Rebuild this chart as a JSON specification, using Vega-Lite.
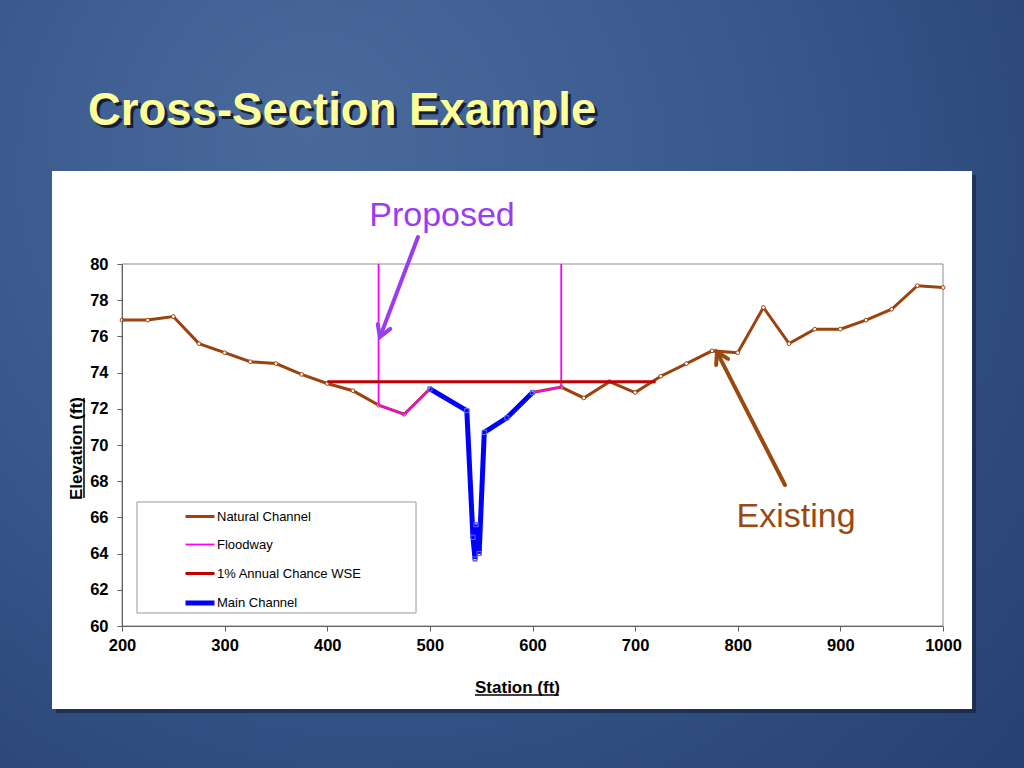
{
  "$schema": "https://vega.github.io/schema/vega-lite/v6.json",
  "autosize": "none",
  "width": 821,
  "height": 362,
  "padding": {"left": 122, "top": 264, "right": 81, "bottom": 142},
  "background": "#2f4c80",
  "config": {"font": "Liberation Sans", "view": {"stroke": null}, "axis": {"labelOverlap": false, "labelFlush": false, "labelSeparation": 0}},
  "data": {"values": [
    {"series": "Natural Channel", "i": 0, "station": 200, "elev": 76.9},
    {"series": "Natural Channel", "i": 1, "station": 225, "elev": 76.9},
    {"series": "Natural Channel", "i": 2, "station": 250, "elev": 77.1},
    {"series": "Natural Channel", "i": 3, "station": 275, "elev": 75.6},
    {"series": "Natural Channel", "i": 4, "station": 300, "elev": 75.1},
    {"series": "Natural Channel", "i": 5, "station": 325, "elev": 74.6},
    {"series": "Natural Channel", "i": 6, "station": 350, "elev": 74.5},
    {"series": "Natural Channel", "i": 7, "station": 375, "elev": 73.9},
    {"series": "Natural Channel", "i": 8, "station": 400, "elev": 73.4},
    {"series": "Natural Channel", "i": 9, "station": 425, "elev": 73.0},
    {"series": "Natural Channel", "i": 10, "station": 450, "elev": 72.2},
    {"series": "Natural Channel", "i": 11, "station": 475, "elev": 71.7},
    {"series": "Natural Channel", "i": 12, "station": 500, "elev": 73.1},
    {"series": "Natural Channel", "i": 13, "station": 536, "elev": 71.9},
    {"series": "Natural Channel", "i": 14, "station": 542, "elev": 64.9},
    {"series": "Natural Channel", "i": 15, "station": 544, "elev": 63.7},
    {"series": "Natural Channel", "i": 16, "station": 545, "elev": 65.6},
    {"series": "Natural Channel", "i": 17, "station": 548, "elev": 64.0},
    {"series": "Natural Channel", "i": 18, "station": 553, "elev": 70.7},
    {"series": "Natural Channel", "i": 19, "station": 575, "elev": 71.5},
    {"series": "Natural Channel", "i": 20, "station": 600, "elev": 72.9},
    {"series": "Natural Channel", "i": 21, "station": 628, "elev": 73.2},
    {"series": "Natural Channel", "i": 22, "station": 650, "elev": 72.6},
    {"series": "Natural Channel", "i": 23, "station": 675, "elev": 73.5},
    {"series": "Natural Channel", "i": 24, "station": 700, "elev": 72.9},
    {"series": "Natural Channel", "i": 25, "station": 725, "elev": 73.8},
    {"series": "Natural Channel", "i": 26, "station": 750, "elev": 74.5},
    {"series": "Natural Channel", "i": 27, "station": 775, "elev": 75.2},
    {"series": "Natural Channel", "i": 28, "station": 800, "elev": 75.1},
    {"series": "Natural Channel", "i": 29, "station": 825, "elev": 77.6},
    {"series": "Natural Channel", "i": 30, "station": 850, "elev": 75.6},
    {"series": "Natural Channel", "i": 31, "station": 875, "elev": 76.4},
    {"series": "Natural Channel", "i": 32, "station": 900, "elev": 76.4},
    {"series": "Natural Channel", "i": 33, "station": 925, "elev": 76.9},
    {"series": "Natural Channel", "i": 34, "station": 950, "elev": 77.5},
    {"series": "Natural Channel", "i": 35, "station": 975, "elev": 78.8},
    {"series": "Natural Channel", "i": 36, "station": 1000, "elev": 78.7},
    {"series": "Floodway", "i": 0, "station": 450, "elev": 80},
    {"series": "Floodway", "i": 1, "station": 450, "elev": 72.2},
    {"series": "Floodway", "i": 2, "station": 475, "elev": 71.7},
    {"series": "Floodway", "i": 3, "station": 500, "elev": 73.1},
    {"series": "Floodway", "i": 4, "station": 536, "elev": 71.9},
    {"series": "Floodway", "i": 5, "station": 542, "elev": 64.9},
    {"series": "Floodway", "i": 6, "station": 544, "elev": 63.7},
    {"series": "Floodway", "i": 7, "station": 545, "elev": 65.6},
    {"series": "Floodway", "i": 8, "station": 548, "elev": 64.0},
    {"series": "Floodway", "i": 9, "station": 553, "elev": 70.7},
    {"series": "Floodway", "i": 10, "station": 575, "elev": 71.5},
    {"series": "Floodway", "i": 11, "station": 600, "elev": 72.9},
    {"series": "Floodway", "i": 12, "station": 628, "elev": 73.2},
    {"series": "Floodway", "i": 13, "station": 628, "elev": 80},
    {"series": "1% Annual Chance WSE", "i": 0, "station": 400, "elev": 73.5},
    {"series": "1% Annual Chance WSE", "i": 1, "station": 720, "elev": 73.5},
    {"series": "Main Channel", "i": 0, "station": 500, "elev": 73.1},
    {"series": "Main Channel", "i": 1, "station": 536, "elev": 71.9},
    {"series": "Main Channel", "i": 2, "station": 542, "elev": 64.9},
    {"series": "Main Channel", "i": 3, "station": 544, "elev": 63.7},
    {"series": "Main Channel", "i": 4, "station": 545, "elev": 65.6},
    {"series": "Main Channel", "i": 5, "station": 548, "elev": 64.0},
    {"series": "Main Channel", "i": 6, "station": 553, "elev": 70.7},
    {"series": "Main Channel", "i": 7, "station": 575, "elev": 71.5},
    {"series": "Main Channel", "i": 8, "station": 600, "elev": 72.9}
  ]},
  "layer": [
    {
      "data": {"values": [{}]},
      "mark": {"type": "rect", "fill": {"gradient": "radial", "x1": 0.3, "y1": 0.25, "r1": 0, "x2": 0.4, "y2": 0.35, "r2": 0.85, "stops": [{"offset": 0, "color": "#4b6a9c"}, {"offset": 0.5, "color": "#37568a"}, {"offset": 1, "color": "#243d6e"}]}},
      "encoding": {
        "x": {"datum": 75, "scale": {"domain": [200, 1000], "nice": false, "zero": false},
          "axis": {"title": "Station (ft)", "values": [200, 300, 400, 500, 600, 700, 800, 900, 1000], "format": "d", "labelFlush": false, "labelOverlap": false, "grid": false, "tickSize": 5, "tickColor": "#606060", "domainColor": "#606060", "labelFontSize": 16.5, "labelFontWeight": "bold", "labelColor": "#000000", "labelPadding": 6, "titleFontSize": 17, "titleFontWeight": "bold", "titleColor": "#000000", "titleX": 395, "titleY": 66, "titleBaseline": "alphabetic", "zindex": 1}},
        "x2": {"datum": 1085},
        "y": {"datum": 96, "scale": {"domain": [60, 80], "nice": false, "zero": false},
          "axis": {"title": "Elevation (ft)", "values": [60, 62, 64, 66, 68, 70, 72, 74, 76, 78, 80], "tickCount": 11, "format": "d", "labelFlush": false, "labelOverlap": false, "grid": false, "tickSize": 5, "tickColor": "#606060", "domainColor": "#606060", "labelFontSize": 16.5, "labelFontWeight": "bold", "labelColor": "#000000", "labelPadding": 9, "titleFontSize": 17, "titleFontWeight": "bold", "titleColor": "#000000", "titleX": -41, "titleY": 184, "titleAngle": -90, "titleBaseline": "alphabetic", "zindex": 1}},
        "y2": {"datum": 51}
      }
    },
    {
      "data": {"values": [{}]},
      "mark": {"type": "rect", "fill": "#101c33", "opacity": 0.55},
      "encoding": {"x": {"datum": 135.7}, "x2": {"datum": 1032.2}, "y": {"datum": 84.92}, "y2": {"datum": 55.19}}
    },
    {
      "data": {"values": [{}]},
      "mark": {"type": "rect", "fill": "#ffffff"},
      "encoding": {"x": {"datum": 131.8}, "x2": {"datum": 1028.3}, "y": {"datum": 85.14}, "y2": {"datum": 55.41}}
    },
    {
      "data": {"values": [{}]},
      "mark": {"type": "rect", "fill": "#ffffff", "stroke": "#9a9a9a", "strokeWidth": 1},
      "encoding": {"x": {"datum": 214.6}, "x2": {"datum": 486.5}, "y": {"datum": 66.85}, "y2": {"datum": 60.72}}
    },
    {
      "data": {"values": [{}]},
      "mark": {"type": "rect", "fill": null, "stroke": "#8c8c8c", "strokeWidth": 1},
      "encoding": {"x": {"datum": 200}, "x2": {"datum": 1000}, "y": {"datum": 60}, "y2": {"datum": 80}}
    },
    {
      "transform": [{"filter": "datum.series === 'Natural Channel'"}],
      "mark": {"type": "line"},
      "encoding": {
        "x": {"field": "station", "type": "quantitative"},
        "y": {"field": "elev", "type": "quantitative"},
        "order": {"field": "i", "type": "quantitative"},
        "color": {"field": "series", "type": "nominal",
          "scale": {"domain": ["Natural Channel", "Floodway", "1% Annual Chance WSE", "Main Channel"], "range": ["#9c420e", "#ff00ff", "#c00000", "#0000ff"]},
          "legend": {"orient": "none", "legendX": 61, "legendY": 236.5, "title": null, "symbolType": "stroke", "symbolSize": 841, "labelFontSize": 13, "labelColor": "#000000", "labelOffset": 0, "rowPadding": 5.5, "padding": 0, "zindex": 1}},
        "strokeWidth": {"field": "series", "type": "nominal",
          "scale": {"type": "ordinal", "domain": ["Natural Channel", "Floodway", "1% Annual Chance WSE", "Main Channel"], "range": [3, 1.8, 3, 5]},
          "legend": {"orient": "none", "legendX": 61, "legendY": 236.5, "title": null, "symbolType": "stroke", "symbolSize": 841, "labelFontSize": 13, "labelColor": "#000000", "labelOffset": 0, "rowPadding": 5.5, "padding": 0, "zindex": 1}}
      }
    },
    {
      "transform": [{"filter": "datum.series === 'Natural Channel'"}],
      "mark": {"type": "point", "filled": true, "fill": "#ffffff", "stroke": "#9c420e", "strokeWidth": 1, "size": 14, "opacity": 1},
      "encoding": {"x": {"field": "station", "type": "quantitative"}, "y": {"field": "elev", "type": "quantitative"}}
    },
    {
      "transform": [{"filter": "datum.series === 'Floodway'"}],
      "mark": {"type": "line"},
      "encoding": {
        "x": {"field": "station", "type": "quantitative"},
        "y": {"field": "elev", "type": "quantitative"},
        "order": {"field": "i", "type": "quantitative"},
        "color": {"field": "series", "type": "nominal", "scale": {"domain": ["Natural Channel", "Floodway", "1% Annual Chance WSE", "Main Channel"], "range": ["#9c420e", "#ff00ff", "#c00000", "#0000ff"]}},
        "strokeWidth": {"field": "series", "type": "nominal", "scale": {"type": "ordinal", "domain": ["Natural Channel", "Floodway", "1% Annual Chance WSE", "Main Channel"], "range": [3, 1.8, 3, 5]}}
      }
    },
    {
      "transform": [{"filter": "datum.series === '1% Annual Chance WSE'"}],
      "mark": {"type": "line"},
      "encoding": {
        "x": {"field": "station", "type": "quantitative"},
        "y": {"field": "elev", "type": "quantitative"},
        "order": {"field": "i", "type": "quantitative"},
        "color": {"field": "series", "type": "nominal", "scale": {"domain": ["Natural Channel", "Floodway", "1% Annual Chance WSE", "Main Channel"], "range": ["#9c420e", "#ff00ff", "#c00000", "#0000ff"]}},
        "strokeWidth": {"field": "series", "type": "nominal", "scale": {"type": "ordinal", "domain": ["Natural Channel", "Floodway", "1% Annual Chance WSE", "Main Channel"], "range": [3, 1.8, 3, 5]}}
      }
    },
    {
      "transform": [{"filter": "datum.series === 'Main Channel'"}],
      "mark": {"type": "line"},
      "encoding": {
        "x": {"field": "station", "type": "quantitative"},
        "y": {"field": "elev", "type": "quantitative"},
        "order": {"field": "i", "type": "quantitative"},
        "color": {"field": "series", "type": "nominal", "scale": {"domain": ["Natural Channel", "Floodway", "1% Annual Chance WSE", "Main Channel"], "range": ["#9c420e", "#ff00ff", "#c00000", "#0000ff"]}},
        "strokeWidth": {"field": "series", "type": "nominal", "scale": {"type": "ordinal", "domain": ["Natural Channel", "Floodway", "1% Annual Chance WSE", "Main Channel"], "range": [3, 1.8, 3, 5]}}
      }
    },
    {
      "transform": [{"filter": "datum.series === 'Main Channel'"}],
      "mark": {"type": "point", "shape": "square", "filled": false, "stroke": "#5a70ff", "strokeWidth": 1, "size": 18, "opacity": 1},
      "encoding": {"x": {"field": "station", "type": "quantitative"}, "y": {"field": "elev", "type": "quantitative"}}
    },
    {
      "data": {"values": [{}]},
      "mark": {"type": "rule", "stroke": "#000000", "strokeWidth": 1.5},
      "encoding": {"x": {"datum": 543.97}, "x2": {"datum": 625.82}, "y": {"datum": 56.19}, "y2": {"datum": 56.19}}
    },
    {
      "data": {"values": [{}]},
      "mark": {"type": "rule", "stroke": "#000000", "strokeWidth": 1.5},
      "encoding": {"x": {"datum": 162.97}, "x2": {"datum": 162.97}, "y": {"datum": 72.6}, "y2": {"datum": 67.07}}
    },
    {
      "data": {"values": [{}]},
      "mark": {"type": "rule", "stroke": "#9b3cf5", "strokeWidth": 4, "strokeCap": "round"},
      "encoding": {"x": {"datum": 488.4}, "x2": {"datum": 451.6}, "y": {"datum": 81.49}, "y2": {"datum": 76.0}}
    },
    {
      "data": {"values": [{}]},
      "mark": {"type": "point", "shape": "M-0.6,1L0,0L0.6,1", "filled": false, "stroke": "#9b3cf5", "strokeWidth": 4, "size": 500, "angle": 200.8, "opacity": 1, "strokeCap": "round", "strokeJoin": "miter"},
      "encoding": {"x": {"datum": 451.4}, "y": {"datum": 75.97}}
    },
    {
      "data": {"values": [{}]},
      "mark": {"type": "rule", "stroke": "#9a4a10", "strokeWidth": 4, "strokeCap": "round"},
      "encoding": {"x": {"datum": 846.0}, "x2": {"datum": 780.0}, "y": {"datum": 67.79}, "y2": {"datum": 75.1}}
    },
    {
      "data": {"values": [{}]},
      "mark": {"type": "point", "shape": "M-0.6,1L0,0L0.6,1", "filled": false, "stroke": "#9a4a10", "strokeWidth": 4, "size": 500, "angle": -27.1, "opacity": 1, "strokeCap": "round", "strokeJoin": "miter"},
      "encoding": {"x": {"datum": 779.8}, "y": {"datum": 75.14}}
    },
    {
      "data": {"values": [{}]},
      "mark": {"type": "text", "text": "Proposed", "font": "Liberation Sans", "fontSize": 34, "align": "center", "baseline": "alphabetic", "fill": "#9b3cf5"},
      "encoding": {"x": {"datum": 511.8}, "y": {"datum": 82.1}}
    },
    {
      "data": {"values": [{}]},
      "mark": {"type": "text", "text": "Existing", "font": "Liberation Sans", "fontSize": 34, "align": "center", "baseline": "alphabetic", "fill": "#9a4a10"},
      "encoding": {"x": {"datum": 856.8}, "y": {"datum": 65.47}}
    },
    {
      "data": {"values": [{}]},
      "mark": {"type": "text", "text": "Cross-Section Example", "font": "Liberation Sans", "fontSize": 45.5, "fontWeight": "bold", "align": "left", "baseline": "alphabetic", "fill": "#0b142a", "opacity": 0.85, "dx": 3, "dy": 3},
      "encoding": {"x": {"datum": 166.87}, "y": {"datum": 87.68}}
    },
    {
      "data": {"values": [{}]},
      "mark": {"type": "text", "text": "Cross-Section Example", "font": "Liberation Sans", "fontSize": 45.5, "fontWeight": "bold", "align": "left", "baseline": "alphabetic", "fill": "#ffff99"},
      "encoding": {"x": {"datum": 166.87}, "y": {"datum": 87.68}}
    }
  ]
}
